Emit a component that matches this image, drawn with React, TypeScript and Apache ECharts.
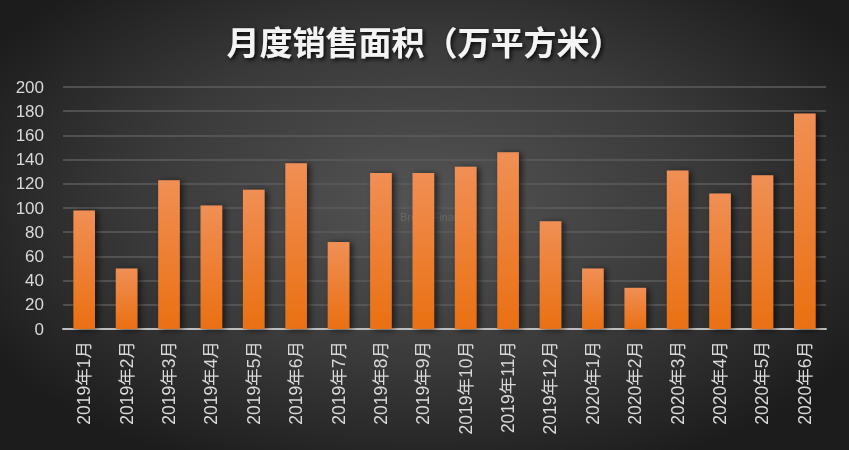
import React, { useEffect, useRef } from "react";
import * as echarts from "echarts";

const categories = [
  "2019年1月", "2019年2月", "2019年3月", "2019年4月", "2019年5月", "2019年6月",
  "2019年7月", "2019年8月", "2019年9月", "2019年10月", "2019年11月", "2019年12月",
  "2020年1月", "2020年2月", "2020年3月", "2020年4月", "2020年5月", "2020年6月",
];
const salesArea = [98, 50, 123, 102, 115, 137, 72, 129, 129, 134, 146, 89, 50, 34, 131, 112, 127, 178];
const titleText = "月度销售面积（万平方米）";
const yMin = 0;
const yMax = 200;
const yStep = 20;

export default function App() {
  const ref = useRef<HTMLDivElement>(null);
  useEffect(() => {
    if (!ref.current) return;
    const chart = echarts.init(ref.current, undefined, { renderer: "svg" });
    const font = "'Liberation Sans', 'Noto Sans CJK SC', sans-serif";
    chart.setOption({
      animation: false,
      backgroundColor: "transparent",
      title: {
        text: titleText,
        left: "center",
        top: 19,
        textStyle: {
          color: "#f4f4f4",
          fontSize: 33,
          fontWeight: "bold",
          fontFamily: "'Noto Sans CJK SC', sans-serif",
          textShadowColor: "rgba(0,0,0,0.85)",
          textShadowBlur: 4,
          textShadowOffsetX: 2,
          textShadowOffsetY: 2,
        },
      },
      graphic: [
        {
          type: "text",
          left: 400,
          top: 211,
          silent: true,
          style: {
            text: "Bread Finance",
            fill: "rgba(255,255,255,0.12)",
            fontSize: 11,
            fontFamily: font,
          },
        },
      ],
      grid: { left: 63, right: 23, top: 87, bottom: 121, containLabel: false },
      xAxis: {
        type: "category",
        data: categories,
        axisLine: { show: true, lineStyle: { color: "#bdbdbd", width: 2 } },
        axisTick: { show: false },
        axisLabel: {
          rotate: 90,
          color: "#d9d9d9",
          fontSize: 17.5,
          fontFamily: font,
          margin: 12,
          interval: 0,
        },
      },
      yAxis: {
        type: "value",
        min: yMin,
        max: yMax,
        interval: yStep,
        axisLine: { show: false },
        axisTick: { show: false },
        splitLine: { lineStyle: { color: "#5c5c5c", width: 1.5 } },
        axisLabel: { color: "#d9d9d9", fontSize: 17, fontFamily: font, margin: 19 },
      },
      series: [
        {
          type: "bar",
          data: salesArea,
          barWidth: "51%",
          itemStyle: {
            color: new echarts.graphic.LinearGradient(0, 0, 0, 1, [
              { offset: 0, color: "#f08f55" },
              { offset: 1, color: "#ea7012" },
            ]),
            shadowColor: "rgba(0,0,0,0.6)",
            shadowBlur: 6,
            shadowOffsetX: 3,
            shadowOffsetY: 1,
          },
        },
      ],
    });
    return () => chart.dispose();
  }, []);
  return (
    <div
      ref={ref}
      style={{
        position: "fixed",
        left: 0,
        top: 0,
        width: 849,
        height: 450,
        background: "radial-gradient(ellipse 60% 65% at 50% 45%, #545454 0%, #3a3a3a 55%, #1c1c1c 100%)",
      }}
    />
  );
}
